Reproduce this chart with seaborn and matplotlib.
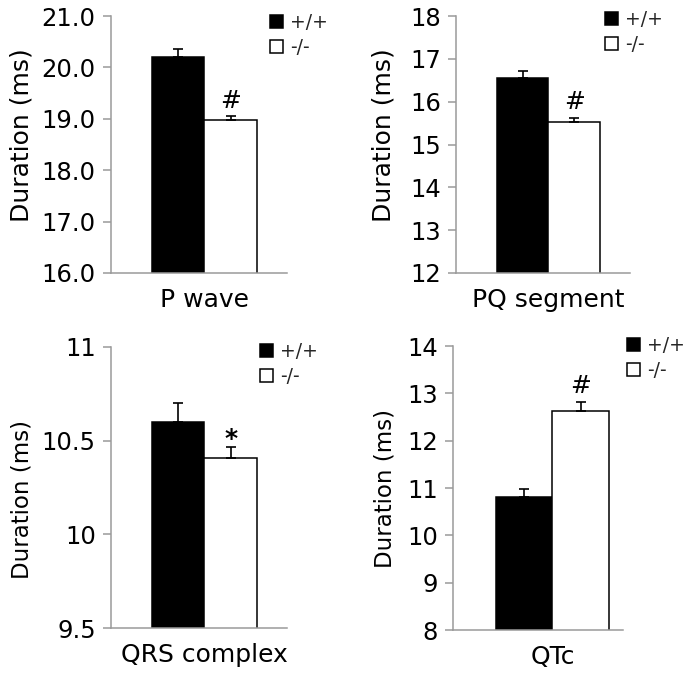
import matplotlib
matplotlib.use("Agg")
import matplotlib.pyplot as plt
import seaborn as sns
import pandas as pd
from matplotlib.patches import Patch

# ---------------- data ----------------
genotypes = ["+/+", "-/-"]
panel_names = ["P wave", "PQ segment", "QRS complex", "QTc"]

means_p_wave = [20.20, 18.97]
sem_p_wave = [0.15, 0.09]

means_pq = [16.55, 15.52]
sem_pq = [0.17, 0.11]

means_qrs = [10.60, 10.405]
sem_qrs = [0.10, 0.06]

means_qtc = [10.80, 12.63]
sem_qtc = [0.18, 0.19]

marks = ["#", "#", "*", "#"]

yticks_p_wave = [16, 17, 18, 19, 20, 21]
yticklabels_p_wave = ["16.0", "17.0", "18.0", "19.0", "20.0", "21.0"]
yticks_pq = [12, 13, 14, 15, 16, 17, 18]
yticklabels_pq = ["12", "13", "14", "15", "16", "17", "18"]
yticks_qrs = [9.5, 10, 10.5, 11]
yticklabels_qrs = ["9.5", "10", "10.5", "11"]
yticks_qtc = [8, 9, 10, 11, 12, 13, 14]
yticklabels_qtc = ["8", "9", "10", "11", "12", "13", "14"]

ylabel = "Duration (ms)"

# ---------------- style ----------------
sns.set_theme(style="white")
plt.rcParams["font.family"] = ["DejaVu Sans"]

W, H = 689, 676
fig = plt.figure(figsize=(W / 100, H / 100), dpi=100)

palette = {"+/+": "black", "-/-": "white"}
spine_col = "#9a9a9a"

panels = [
    dict(name=panel_names[0], means=means_p_wave, sems=sem_p_wave, ticks=yticks_p_wave,
         labels=yticklabels_p_wave, box=(111, 287, 16, 273), xlim=(-0.713, 0.63),
         ylab=(-0.443, 0.537), ylfs=18, leg=(270, 13), mark_off=2.0),
    dict(name=panel_names[1], means=means_pq, sems=sem_pq, ticks=yticks_pq,
         labels=yticklabels_pq, box=(456, 630, 16, 273), xlim=(-0.717, 0.632),
         ylab=(-0.345, 0.537), ylfs=18, leg=(605, 10), mark_off=2.5),
    dict(name=panel_names[2], means=means_qrs, sems=sem_qrs, ticks=yticks_qrs,
         labels=yticklabels_qrs, box=(111, 287, 347, 628), xlim=(-0.713, 0.63),
         ylab=(-0.443, 0.459), ylfs=16.5, leg=(260, 342), mark_off=-3.0),
    dict(name=panel_names[3], means=means_qtc, sems=sem_qtc, ticks=yticks_qtc,
         labels=yticklabels_qtc, box=(453, 623, 346, 630), xlim=(-0.705, 0.50),
         ylab=(-0.335, 0.50), ylfs=16.5, leg=(627, 336), mark_off=2.5),
]

for i, p in enumerate(panels):
    l, r, t, b = p["box"]
    ax = fig.add_axes([l / W, (H - b) / H, (r - l) / W, (b - t) / H])
    df = pd.DataFrame({"metric": [p["name"]] * 2, "genotype": genotypes, "value": p["means"]})
    sns.barplot(data=df, x="metric", y="value", hue="genotype", hue_order=genotypes,
                palette=palette, edgecolor="black", linewidth=1.1, errorbar=None,
                legend=False, ax=ax, zorder=2)
    xs = [patch.get_x() + patch.get_width() / 2 for patch in ax.patches[:2]]
    ax.errorbar(xs, p["means"], yerr=[[0, 0], p["sems"]], fmt="none", ecolor="black",
                elinewidth=1.2, capsize=3.3, capthick=1.2, zorder=3)
    ymin, ymax = p["ticks"][0], p["ticks"][-1]
    ax.set_ylim(ymin, ymax)
    ax.set_xlim(*p["xlim"])
    ax.set_yticks(p["ticks"])
    ax.set_yticklabels(p["labels"])
    ax.tick_params(axis="y", which="both", left=True, length=6, width=1.1, color=spine_col,
                   labelsize=17.5, pad=5, labelcolor="black")
    ax.tick_params(axis="x", length=0, labelsize=18, pad=11, labelcolor="black")
    for s in ["top", "right"]:
        ax.spines[s].set_visible(False)
    for s in ["left", "bottom"]:
        ax.spines[s].set_color(spine_col)
        ax.spines[s].set_linewidth(1.1)
    ax.set_xlabel("")
    ax.set_ylabel(ylabel, fontsize=p["ylfs"], color="black")
    ax.yaxis.set_label_coords(*p["ylab"])
    # significance mark
    top = p["means"][1] + p["sems"][1]
    ax.annotate(marks[i], xy=(xs[1], top), xytext=(0, p["mark_off"]), textcoords="offset points",
                ha="center", va="bottom", fontsize=18,
                fontweight="normal" if marks[i] == "#" else "bold", color="black")
    # legend
    handles = [Patch(facecolor=palette[g], edgecolor="black", linewidth=1.1) for g in genotypes]
    lx, ly = p["leg"]
    fig.legend(handles=handles, labels=genotypes, loc="upper left",
               bbox_to_anchor=(lx / W, 1 - ly / H), bbox_transform=fig.transFigure,
               frameon=False, fontsize=13.5, handlelength=0.7, handleheight=0.7,
               handletextpad=0.35, borderpad=0, borderaxespad=0, labelspacing=0.3)

fig.savefig("out.png", dpi=100)
